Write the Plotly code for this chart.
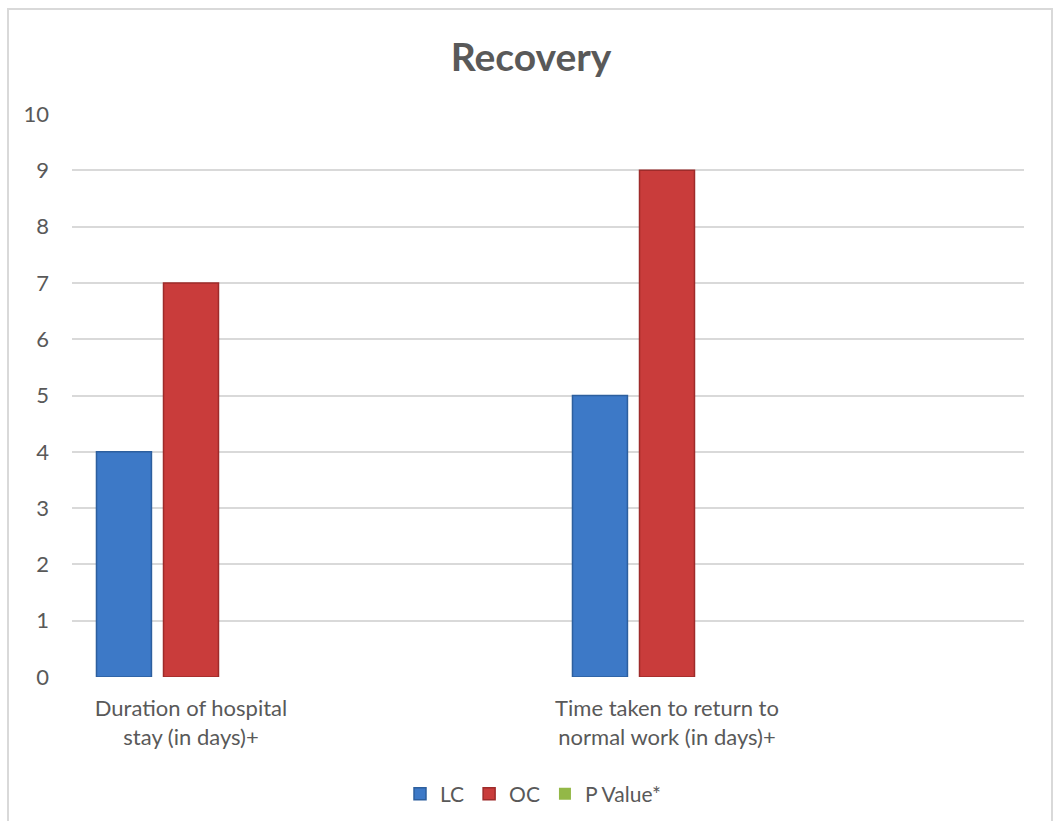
import plotly.graph_objects as go

categories = ["Duration of hospital<br>stay (in days)+", "", "Time taken to return to<br>normal work (in days)+", ""]
series_names = ["LC", "OC", "P Value*"]
lc_values = [4, 0, 5, 0]
oc_values = [7, 0, 9, 0]
p_values = [0, 0, 0, 0]
y_ticks = list(range(0, 11))

colors = {"LC": "#3d79c7", "OC": "#c93c3b", "P Value*": "#93b847"}
edge = {"LC": "#2d5f9e", "OC": "#9e2b2a", "P Value*": "#6f8f30"}

FONT = "Lato, Carlito, Open Sans, sans-serif"
x_pos = list(range(len(categories)))
fig = go.Figure()
for name, vals in zip(series_names, [lc_values, oc_values, p_values]):
    fig.add_trace(go.Bar(
        x=x_pos, y=vals, name=name,
        marker=dict(color=colors[name],
                    line=dict(color=edge[name], width=[1.5 if v > 0 else 0 for v in vals])),
    ))

L, R, T, B = 72, 1053 - 1024, 114, 821 - 677
ph = 821 - T - B
pw = 1053 - L - R

fig.update_layout(
    width=1053, height=821,
    margin=dict(l=L, r=R, t=T, b=B, autoexpand=False),
    paper_bgcolor="white", plot_bgcolor="white",
    barmode="group", bargap=0.155, bargroupgap=0.18,
    title=dict(text="<b>Recovery</b>", x=(531) / 1053, xanchor="center", y=1 - 57 / 821, yanchor="middle",
               font=dict(family=FONT, size=39, color="#595959")),
    font=dict(family=FONT, size=22, color="#595959"),
    legend=dict(orientation="h", x=(533 - L) / pw, xanchor="center", y=(677 - 794) / ph, yanchor="middle",
                font=dict(size=21, color="#595959"), itemwidth=30, traceorder="normal"),
    xaxis=dict(range=[-0.5, len(categories) - 0.5], tickvals=x_pos, ticktext=categories,
               showgrid=False, zeroline=False, showline=False, ticks="", ticklabelstandoff=16,
               automargin=False, tickfont=dict(size=22, color="#595959")),
    yaxis=dict(range=[0, 10], tickvals=y_ticks, showgrid=True, gridcolor="#d9d9d9", gridwidth=2,
               zeroline=False, showline=False, ticks="", ticklabelstandoff=22,
               automargin=False, tickfont=dict(size=22, color="#595959")),
    shapes=[dict(type="rect", xref="paper", yref="paper",
                 x0=(8 - L) / pw, x1=(1052 - L) / pw, y0=-0.35, y1=(677 - 9) / ph,
                 line=dict(color="#d9d9d9", width=2), layer="below")],
)

fig.write_html("out.html")
